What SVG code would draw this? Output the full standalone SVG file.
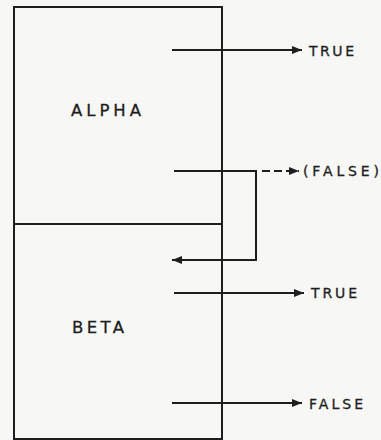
<svg xmlns="http://www.w3.org/2000/svg" width="381" height="440" viewBox="0 0 381 440">
<style>
.box{fill:none;stroke:#1e1e1e;stroke-width:2}
.ln{fill:none;stroke:#1e1e1e;stroke-width:2}
.dash{stroke-dasharray:8 4}
.lbl{font-family:"DejaVu Sans","Liberation Sans",Arial,sans-serif;fill:#1e1e1e;stroke:#1e1e1e;stroke-width:0.3}
.big{font-size:16.5px}
.sm{font-size:14px}
</style>
<defs>
<marker id="ah" viewBox="0 0 10 8" refX="10" refY="4" markerWidth="10" markerHeight="8" markerUnits="userSpaceOnUse" orient="auto">
<path d="M0,0 L10,4 L0,8 Z" fill="#1e1e1e"/>
</marker>
</defs>
<rect width="381" height="440" fill="#f7f7f5"/>
<g id="alpha">
<rect class="box" x="14" y="7" width="208" height="217"/>
<text class="lbl big" x="71" y="116" textLength="70" lengthAdjust="spacing">ALPHA</text>
</g>
<g id="beta">
<rect class="box" x="14" y="224" width="208" height="215"/>
<text class="lbl big" x="72" y="333" textLength="52" lengthAdjust="spacing">BETA</text>
</g>
<g id="connectors">
<line class="ln" x1="172" y1="50" x2="302" y2="50" marker-end="url(#ah)"/>
<polyline class="ln" points="174,171 256,171 256,260 172,260" marker-end="url(#ah)"/>
<line class="ln dash" x1="262" y1="171" x2="299" y2="171" marker-end="url(#ah)"/>
<line class="ln" x1="174" y1="293" x2="304" y2="293" marker-end="url(#ah)"/>
<line class="ln" x1="172" y1="403" x2="302" y2="403" marker-end="url(#ah)"/>
</g>
<g id="labels">
<text class="lbl sm" x="309" y="56" textLength="45" lengthAdjust="spacing">TRUE</text>
<text class="lbl sm" x="303" y="176" textLength="76" lengthAdjust="spacing">(FALSE)</text>
<text class="lbl sm" x="311" y="298" textLength="46" lengthAdjust="spacing">TRUE</text>
<text class="lbl sm" x="309" y="409" textLength="54" lengthAdjust="spacing">FALSE</text>
</g>
</svg>
